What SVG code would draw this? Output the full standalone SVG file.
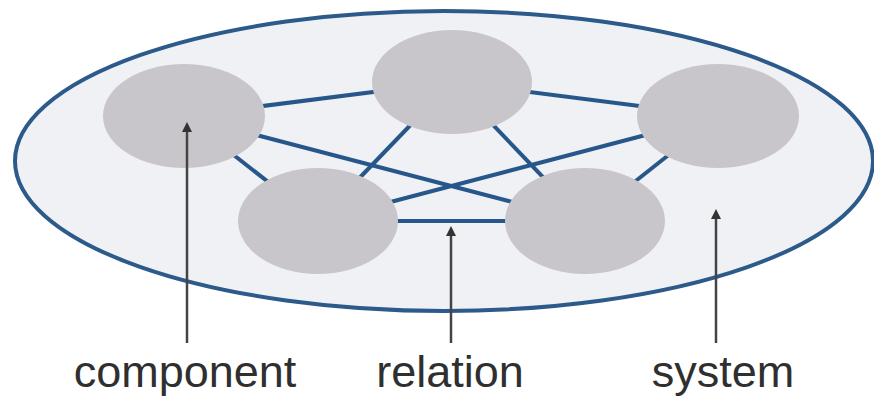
<svg xmlns="http://www.w3.org/2000/svg" width="874" height="397" viewBox="0 0 874 397">
  <style>
    .edge { stroke: #27578a; stroke-width: 4; fill: none; }
    .node { fill: #c8c6ca; }
    .ptr { stroke: #444444; stroke-width: 2.5; fill: none; }
    .lbl { font-family: "Liberation Sans", Arial, sans-serif; font-size: 45px; fill: #2f2f2f; text-anchor: middle; }
  </style>
  <defs>
    <marker id="ah" markerWidth="4" markerHeight="4" refX="2" refY="2" orient="auto" markerUnits="strokeWidth">
      <path d="M0,0 L4,2 L0,4 Z" fill="#333333"/>
    </marker>
  </defs>
  <rect width="874" height="397" fill="#ffffff"/>
  <g id="system">
    <ellipse cx="444" cy="161" rx="429" ry="150" fill="#f0f1f5" stroke="#2c5a8a" stroke-width="4"/>
  </g>
  <g id="connectors">
    <line class="edge" x1="184" y1="116" x2="452" y2="82"/>
    <line class="edge" x1="452" y1="82" x2="718" y2="116"/>
    <line class="edge" x1="184" y1="116" x2="318" y2="221"/>
    <line class="edge" x1="184" y1="116" x2="585" y2="221"/>
    <line class="edge" x1="452" y1="82" x2="318" y2="221"/>
    <line class="edge" x1="452" y1="82" x2="585" y2="221"/>
    <line class="edge" x1="718" y1="116" x2="318" y2="221"/>
    <line class="edge" x1="718" y1="116" x2="585" y2="221"/>
    <line class="edge" x1="318" y1="221" x2="585" y2="221"/>
  </g>
  <g id="node-top-left"><ellipse class="node" cx="184" cy="116" rx="81" ry="52"/></g>
  <g id="node-top-center"><ellipse class="node" cx="452" cy="82" rx="80" ry="52"/></g>
  <g id="node-top-right"><ellipse class="node" cx="718" cy="116" rx="81" ry="52"/></g>
  <g id="node-bottom-left"><ellipse class="node" cx="318" cy="221" rx="80" ry="53"/></g>
  <g id="node-bottom-right"><ellipse class="node" cx="585" cy="221" rx="80" ry="53"/></g>
  <g id="pointers">
    <line class="ptr" x1="187" y1="343" x2="187" y2="127" marker-end="url(#ah)"/>
    <line class="ptr" x1="451" y1="343" x2="451" y2="231" marker-end="url(#ah)"/>
    <line class="ptr" x1="716" y1="343" x2="716" y2="214" marker-end="url(#ah)"/>
  </g>
  <g id="labels">
    <text class="lbl" x="185" y="387">component</text>
    <text class="lbl" x="450" y="387">relation</text>
    <text class="lbl" x="723" y="387">system</text>
  </g>
</svg>
